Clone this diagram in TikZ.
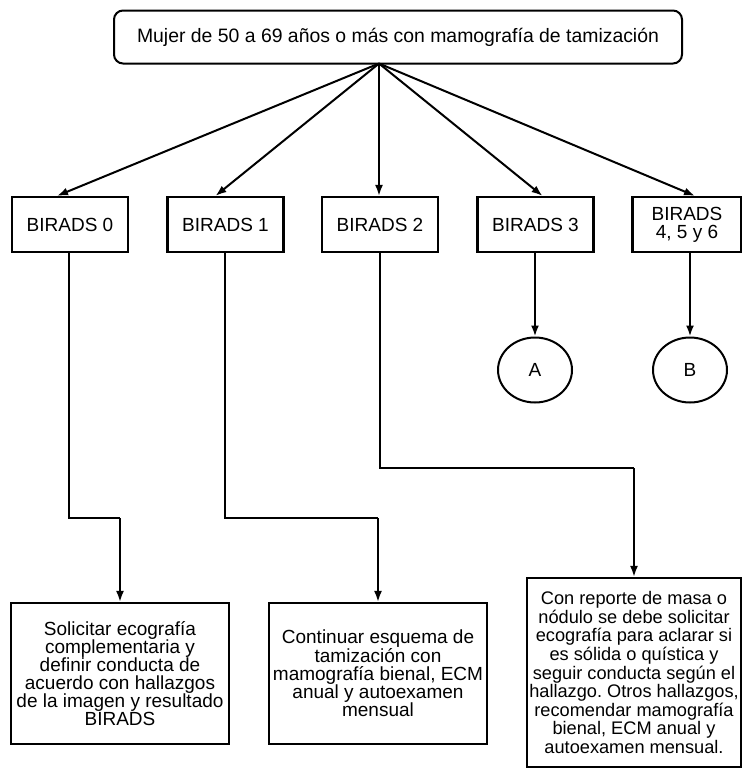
\documentclass[tikz,border=0pt]{standalone}
\usepackage{fontspec}
\setmainfont{Liberation Sans}
\frenchspacing
\usetikzlibrary{arrows.meta,shapes.geometric}
\begin{document}
\begin{tikzpicture}[x=1pt,y=-1pt,
  every node/.style={font=\fontsize{19}{17.9}\selectfont, inner sep=0pt, align=center},
  rbox/.style={draw, line width=2pt, rounded corners=9pt, minimum width=568pt, minimum height=53pt,
    font=\fontsize{19.4}{20}\selectfont},
  bbox/.style={draw, line width=2.2pt, minimum width=116pt, minimum height=55pt},
  tbox/.style={draw, line width=2.2pt},
  circ/.style={draw, ellipse, line width=2pt, minimum width=74pt, minimum height=65pt},
  link/.style={line width=2pt, -{Latex[length=11pt,width=8pt]}},
  wire/.style={line width=2pt}]
\useasboundingbox (0,0) rectangle (742,769);

% root of the flow
\node[rbox] (top) at (398,37) {Mujer de 50 a 69 años o más con mamografía de tamización};
\coordinate (apex) at (379,63.5);

% BIRADS categories
\node[bbox] (b0) at (70,224.5) {BIRADS 0};
\node[bbox] (b1) at (225.5,224.5) {BIRADS 1};
\node[bbox] (b2) at (380,224.5) {BIRADS 2};
\node[bbox] (b3) at (535.5,224.5) {BIRADS 3};
\node[bbox, minimum width=109pt] (b4) at (687,224.5) {BIRADS\\4, 5 y 6};

\draw[link] (apex) -- ([xshift=-13pt]b0.north);
\draw[link] (apex) -- ([xshift=-10pt]b1.north);
\draw[link] (apex) -- ([xshift=-1pt]b2.north);
\draw[link] (apex) -- ([xshift=7pt]b3.north);
\draw[link] (apex) -- ([xshift=8pt]b4.north);

% connectors to other pages
\node[circ] (A) at (535,370) {A};
\node[circ] (B) at (690,370) {B};
\draw[link] ([xshift=-0.5pt]b3.south) -- (A.north);
\draw[link] ([xshift=3pt]b4.south) -- (B.north);

% recommendations
\node[tbox, minimum width=218pt, minimum height=141pt] (r0) at (120,673.5)
  {Solicitar ecografía\\complementaria y\\definir conducta de\\acuerdo con hallazgos\\de la imagen y resultado\\BIRADS};
\node[tbox, minimum width=218pt, minimum height=141pt] (r1) at (378,673.5)
  {Continuar esquema de\\tamización con\\mamografía bienal, ECM\\anual y autoexamen\\mensual};
\node[tbox, minimum width=214pt, minimum height=189pt, font=\fontsize{18.2}{18.6}\selectfont] (r2) at (634,672.5)
  {Con reporte de masa o\\nódulo se debe solicitar\\ecografía para aclarar si\\es sólida o quística y\\seguir conducta según el\\hallazgo. Otros hallazgos,\\recomendar mamografía\\bienal, ECM anual y\\autoexamen mensual.};

\coordinate (k0) at (120,518);
\coordinate (k1) at (378,518);
\coordinate (k2) at (634,468);
\draw[wire] ([xshift=-1pt]b0.south) |- (k0);
\draw[link] (k0) -- (r0.north);
\draw[wire] ([xshift=-0.5pt]b1.south) |- (k1);
\draw[link] (k1) -- (r1.north);
\draw[wire] (b2.south) |- (k2);
\draw[link] (k2) -- (r2.north);
\end{tikzpicture}
\end{document}
